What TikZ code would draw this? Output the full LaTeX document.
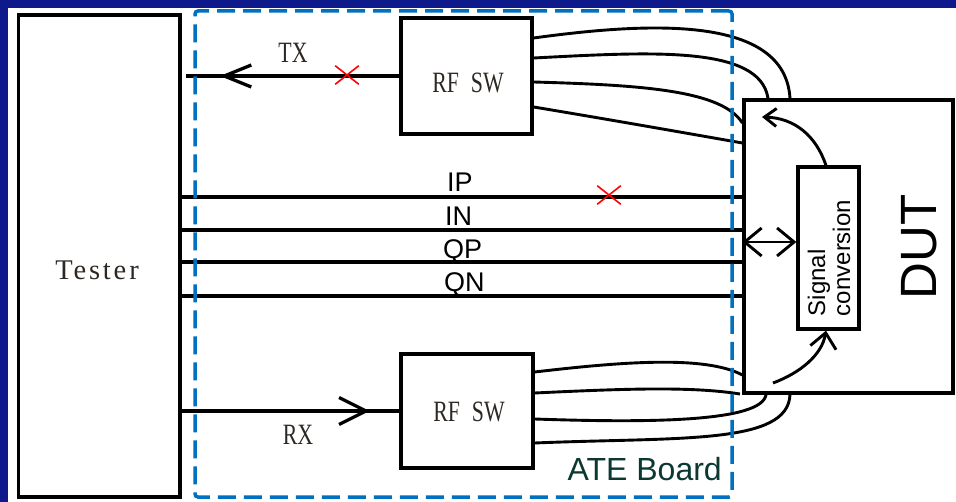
\documentclass[tikz,border=0pt]{standalone}
\usepackage{fontspec}
\setmainfont{Liberation Serif}
\newfontfamily\condserif[FakeStretch=0.74]{Liberation Serif}
\newfontfamily\testerfont[LetterSpace=10]{Liberation Serif}
\newfontfamily\arialfont{Liberation Sans}
\usetikzlibrary{arrows.meta,decorations.markings,shapes.misc}
\definecolor{navy}{RGB}{14,26,140}
\definecolor{ateblue}{RGB}{0,112,192}
\definecolor{ateteal}{RGB}{12,56,50}
\definecolor{lblgray}{RGB}{45,40,35}
\begin{document}
\begin{tikzpicture}[x=1pt,y=-1pt,
  blk/.style={draw=black, line width=3.3pt, fill=white, inner sep=0pt},
  wire/.style={line width=3.3pt},
  cable/.style={line width=2.9pt},
  sertext/.style={font=\condserif\fontsize{29.5}{29.5}\selectfont, text=lblgray, inner sep=0pt},
  iqtext/.style={font=\arialfont\fontsize{27}{27}\selectfont, inner sep=0pt, anchor=base west},
  xmark/.style={cross out, draw=red, line width=1.6pt, minimum width=22pt, minimum height=17pt, inner sep=0pt},
]
\useasboundingbox (0,0) rectangle (956,502);
\fill[navy] (0,0) rectangle (956,502);
\fill[white] (8,8) rectangle (956,502);

% blocks
\node[blk, minimum width=161.5pt, minimum height=482pt] (tester) at (99.25,256) {};
\node[font=\testerfont\fontsize{28.5}{28.5}\selectfont, text=lblgray, anchor=base, inner sep=0pt] (testerlbl) at (97,280) {Tester};
\node[blk, minimum width=131pt, minimum height=116pt] (rfsw1) at (466.5,76) {};
\node[sertext, anchor=base] (rfsw1lbl) at (468,93) {RF\hspace{12pt}SW};
\node[blk, minimum width=132pt, minimum height=114pt] (rfsw2) at (467,411) {};
\node[sertext, anchor=base] (rfsw2lbl) at (469,422) {RF\hspace{12pt}SW};

% TX / RX
\coordinate (txend) at (186,76);
\draw[wire, postaction={decorate}, decoration={markings, mark=at position 0.841 with {\arrow{Straight Barb[length=27pt,width=22pt,line width=3.3pt]}}}] (rfsw1.west) -- (txend);
\node[sertext, anchor=base] (txlbl) at (293,63) {TX};
\node[xmark] (x1) at (347,75) {};
\draw[wire, postaction={decorate}, decoration={markings, mark=at position 0.864 with {\arrow{Straight Barb[length=27pt,width=27pt,line width=3.3pt]}}}] (tester.east |- rfsw2.west) -- (rfsw2.west);
\node[sertext, anchor=base] (rxlbl) at (298,445) {RX};

% DUT
\node[blk, minimum width=209pt, minimum height=293pt] (dut) at (848.5,246.5) {};
\node[rotate=90, font=\arialfont\fontsize{51}{51}\selectfont, inner sep=0pt] (dutlbl) at (919,247) {DUT};
\node[blk, minimum width=61pt, minimum height=162pt] (sig) at (828.5,248) {};
\node[rotate=90, align=left, font=\arialfont\fontsize{24}{25}\selectfont, inner sep=0pt] (siglbl) at (829,258) {Signal\\conversion};

% IQ lines
\draw[wire] (tester.east |- 0,197) -- (dut.west |- 0,197);
\draw[wire] (tester.east |- 0,230) -- (dut.west |- 0,230);
\draw[wire] (tester.east |- 0,262) -- (dut.west |- 0,262);
\draw[wire] (tester.east |- 0,296) -- (dut.west |- 0,296);
\node[iqtext] (iplbl) at (447,192) {IP};
\node[iqtext] (inlbl) at (445,226) {IN};
\node[iqtext] (qplbl) at (443,259) {QP};
\node[iqtext] (qnlbl) at (444,292) {QN};
\node[xmark] (x2) at (609,195) {};

% cables top
\draw[cable] (rfsw1.east |- 0,38) .. controls (650,22) and (785,15) .. (790,0 |- dut.north);
\draw[cable] (rfsw1.east |- 0,58) .. controls (650,52) and (760,45) .. (768,0 |- dut.north);
\draw[cable] (rfsw1.east |- 0,82) .. controls (640,85) and (722,90) .. (dut.west |- 0,123);
\draw[cable] (rfsw1.east |- 0,107) .. controls (600,118) and (680,132) .. (dut.west |- 0,143);
% cables bottom
\draw[cable] (rfsw2.east |- 0,372) .. controls (620,362) and (705,355) .. (dut.west |- 0,375);
\draw[cable] (rfsw2.east |- 0,393) .. controls (620,389) and (690,386) .. (740,394);
\draw[cable] (rfsw2.east |- 0,419) .. controls (650,423) and (762,422) .. (766,0 |- dut.south);
\draw[cable] (rfsw2.east |- 0,443) .. controls (680,437) and (788,445) .. (790,0 |- dut.south);

% arrows in DUT
\draw[cable, {Straight Barb[length=17pt,width=28pt]}-{Straight Barb[length=17pt,width=28pt]}] (dut.west |- 0,242) -- (sig.west |- 0,242);
\coordinate (tipA) at (762,117);
\draw[cable, -{Straight Barb[length=12pt,width=18pt]}] (sig.north -| 826,0) .. controls (816,136) and (795,118) .. (tipA);
\coordinate (startB) at (773,383);
\draw[cable, -{Straight Barb[length=15pt,width=26pt]}] (startB) .. controls (800,373) and (822,355) .. (sig.south -| 826,0);

% ATE board
\node[draw=ateblue, line width=3.5pt, dash pattern=on 18pt off 8pt, rounded corners=3pt, minimum width=537pt, minimum height=486pt, inner sep=0pt] (ate) at (463.5,254) {};
\node[font=\arialfont\fontsize{32}{32}\selectfont, text=ateteal, anchor=base east, inner sep=0pt] (atelbl) at (722,480) {ATE Board};
\end{tikzpicture}
\end{document}
